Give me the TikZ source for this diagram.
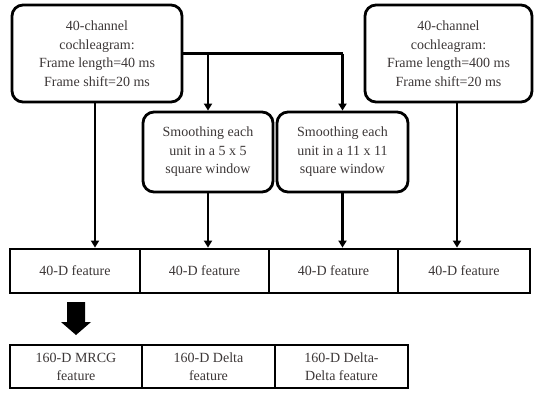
\documentclass[tikz,border=0pt]{standalone}
\usepackage{fontspec}
\setmainfont{Liberation Serif}
\usetikzlibrary{arrows.meta}

\definecolor{textgray}{RGB}{60,55,55}

\tikzset{
  roundbox/.style={draw, line width=2.8pt, rounded corners=11pt, align=center, inner sep=0pt,
    text=textgray, font=\fontsize{14}{18.5}\selectfont},
  cellbox/.style={draw, line width=2.8pt, align=center, inner sep=0pt,
    text=textgray, font=\fontsize{14}{18}\selectfont},
  flow/.style={line width=2.5pt, -{Triangle[width=8pt, length=7pt]}}
}

\begin{document}
\begin{tikzpicture}[x=1pt, y=-1pt]
\useasboundingbox (0,0) rectangle (535,392);

\node[roundbox, minimum width=170pt, minimum height=97pt] (cochshort) at (97,53.5) {40-channel\\cochleagram:\\Frame length=40 ms\\Frame shift=20 ms};
\node[roundbox, minimum width=167pt, minimum height=97pt] (cochlong) at (448.5,53.5) {40-channel\\cochleagram:\\Frame length=400 ms\\Frame shift=20 ms};
\node[roundbox, minimum width=130pt, minimum height=80pt] (smoothfive) at (208,152) {Smoothing each\\unit in a 5 x 5\\square window};
\node[roundbox, minimum width=131pt, minimum height=80pt] (smootheleven) at (342.5,152) {Smoothing each\\unit in a 11 x 11\\square window};

\node[cellbox, minimum width=130pt, minimum height=44pt] (feata) at (75,271) {40-D feature};
\node[cellbox, minimum width=129pt, minimum height=44pt] (featb) at (204.5,271) {40-D feature};
\node[cellbox, minimum width=129pt, minimum height=44pt] (featc) at (333.5,271) {40-D feature};
\node[cellbox, minimum width=132pt, minimum height=44pt] (featd) at (464,271) {40-D feature};

\node[cellbox, minimum width=132pt, minimum height=43pt] (mrcg) at (76,366.5) {160-D MRCG\\feature};
\node[cellbox, minimum width=133pt, minimum height=43pt] (delta) at (208.5,366.5) {160-D Delta\\feature};
\node[cellbox, minimum width=133pt, minimum height=43pt] (deltadelta) at (341.5,366.5) {160-D Delta-\\Delta feature};

\coordinate (bigtip) at (76,335);
\fill (bigtip) -- ++(-15,-13) -- ++(6,0) -- ++(0,-20) -- ++(18,0) -- ++(0,20) -- ++(6,0) -- cycle;

\coordinate (split) at (342.5,53.5);
\draw[line width=2.5pt] (cochshort.east) -- (split);
\draw[flow] (smoothfive.north |- split) -- (smoothfive.north);
\draw[flow] (split) -- (smootheleven.north);
\draw[flow] ([xshift=-2pt]cochshort.south) -- ([xshift=-2pt]cochshort.south |- feata.north);
\draw[flow] ([xshift=8.5pt]cochlong.south) -- ([xshift=8.5pt]cochlong.south |- featd.north);
\draw[flow] (smoothfive.south) -- (smoothfive.south |- featb.north);
\draw[flow] (smootheleven.south) -- (smootheleven.south |- featc.north);

\end{tikzpicture}
\end{document}
